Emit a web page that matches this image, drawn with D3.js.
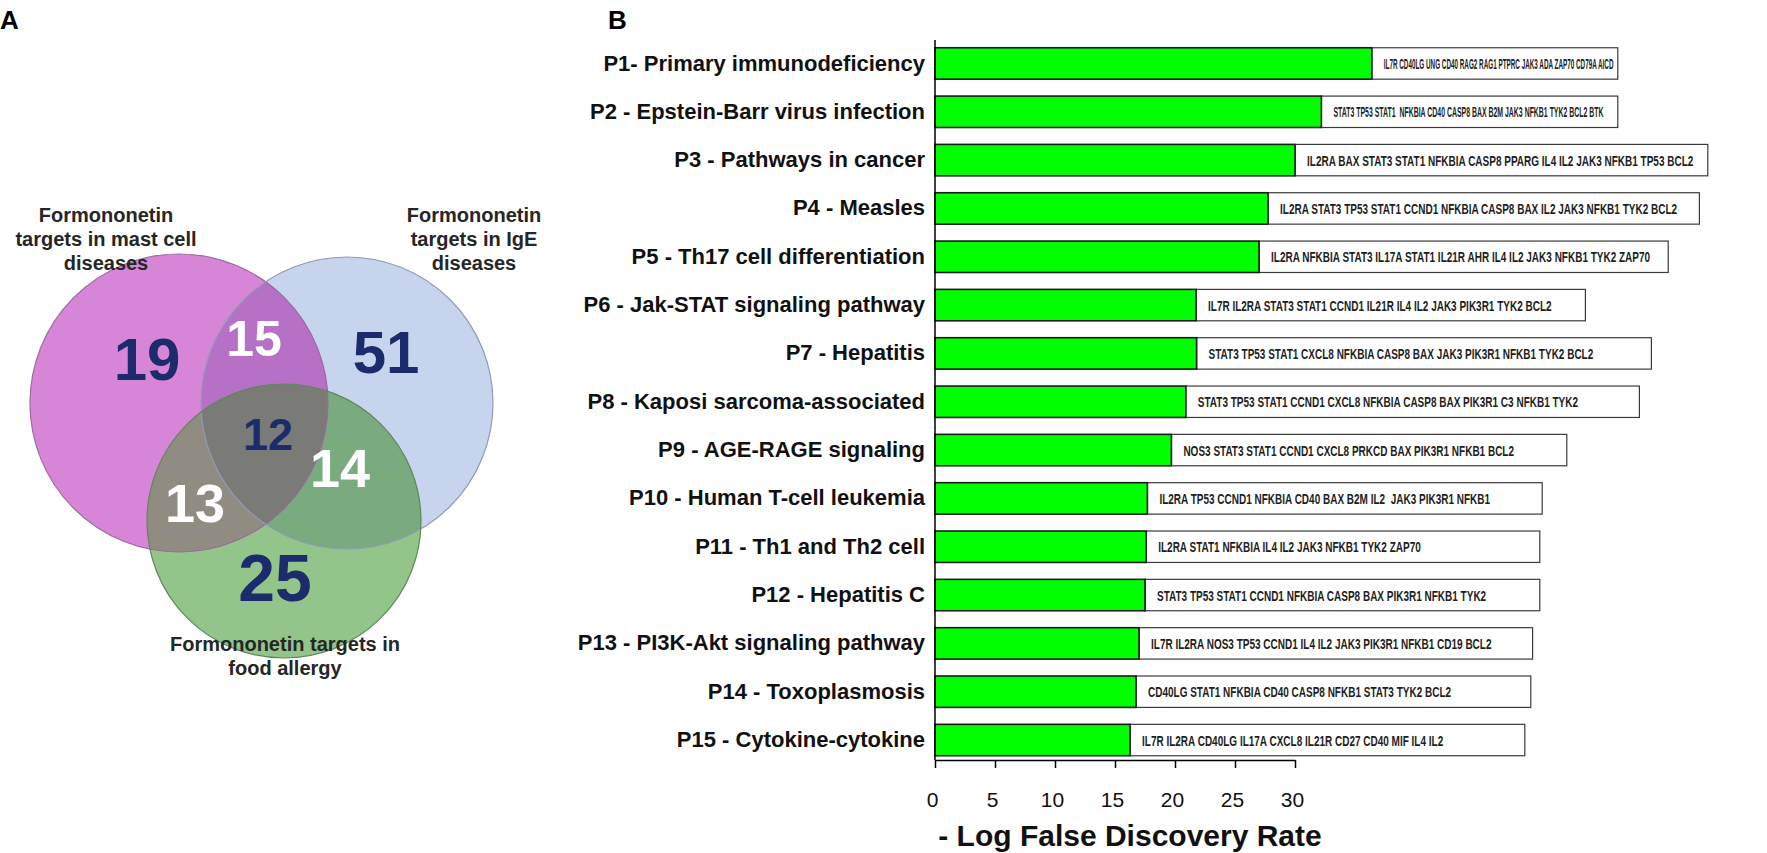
<!DOCTYPE html>
<html><head><meta charset="utf-8">
<script src="https://cdn.jsdelivr.net/npm/d3@7"></script>
<style>body{margin:0;background:#fff}svg{display:block}</style>
</head><body>
<svg id="c" width="1767" height="853"></svg>
<script>
// ---------- DATA ----------
const pathways = [
  "P1- Primary immunodeficiency",
  "P2 - Epstein-Barr virus infection",
  "P3 - Pathways in cancer",
  "P4 - Measles",
  "P5 - Th17 cell differentiation",
  "P6 - Jak-STAT signaling pathway",
  "P7 - Hepatitis",
  "P8 - Kaposi sarcoma-associated",
  "P9 - AGE-RAGE signaling",
  "P10 - Human T-cell leukemia",
  "P11 - Th1 and Th2 cell",
  "P12 - Hepatitis C",
  "P13 - PI3K-Akt signaling pathway",
  "P14 - Toxoplasmosis",
  "P15 - Cytokine-cytokine"
];
const logFDR = [36.4, 32.2, 30.0, 27.75, 27.0, 21.75, 21.8, 20.9, 19.7, 17.7, 17.6, 17.5, 17.0, 16.75, 16.25];
const geneBoxEnd = [56.9, 56.9, 64.4, 63.7, 61.1, 54.2, 59.7, 58.7, 52.65, 50.6, 50.4, 50.4, 49.8, 49.65, 49.15];
const geneLists = [
  "IL7R CD40LG UNG CD40 RAG2 RAG1 PTPRC JAK3 ADA ZAP70 CD79A AICD",
  "STAT3 TP53 STAT1  NFKBIA CD40 CASP8 BAX B2M JAK3 NFKB1 TYK2 BCL2 BTK",
  "IL2RA BAX STAT3 STAT1 NFKBIA CASP8 PPARG IL4 IL2 JAK3 NFKB1 TP53 BCL2",
  "IL2RA STAT3 TP53 STAT1 CCND1 NFKBIA CASP8 BAX IL2 JAK3 NFKB1 TYK2 BCL2",
  "IL2RA NFKBIA STAT3 IL17A STAT1 IL21R AHR IL4 IL2 JAK3 NFKB1 TYK2 ZAP70",
  "IL7R IL2RA STAT3 STAT1 CCND1 IL21R IL4 IL2 JAK3 PIK3R1 TYK2 BCL2",
  "STAT3 TP53 STAT1 CXCL8 NFKBIA CASP8 BAX JAK3 PIK3R1 NFKB1 TYK2 BCL2",
  "STAT3 TP53 STAT1 CCND1 CXCL8 NFKBIA CASP8 BAX PIK3R1 C3 NFKB1 TYK2",
  "NOS3 STAT3 STAT1 CCND1 CXCL8 PRKCD BAX PIK3R1 NFKB1 BCL2",
  "IL2RA TP53 CCND1 NFKBIA CD40 BAX B2M IL2  JAK3 PIK3R1 NFKB1",
  "IL2RA STAT1 NFKBIA IL4 IL2 JAK3 NFKB1 TYK2 ZAP70",
  "STAT3 TP53 STAT1 CCND1 NFKBIA CASP8 BAX PIK3R1 NFKB1 TYK2",
  "IL7R IL2RA NOS3 TP53 CCND1 IL4 IL2 JAK3 PIK3R1 NFKB1 CD19 BCL2",
  "CD40LG STAT1 NFKBIA CD40 CASP8 NFKB1 STAT3 TYK2 BCL2",
  "IL7R IL2RA CD40LG IL17A CXCL8 IL21R CD27 CD40 MIF IL4 IL2"
];
const xTicks = [0, 5, 10, 15, 20, 25, 30];
const xTitle = "- Log False Discovery Rate";

const vennSetNames = ["mast", "ige", "food"];
const vennSetLabels = [
  ["Formononetin", "targets in mast cell", "diseases"],
  ["Formononetin", "targets in IgE", "diseases"],
  ["Formononetin targets in", "food allergy"]
];
const vennRegionKeys   = ["mast", "ige", "food", "mast&ige", "mast&food", "ige&food", "mast&ige&food"];
const vennRegionCounts = [19, 51, 25, 15, 13, 14, 12];

// ---------- DRAW ----------
const svg = d3.select("#c");
const FONT = "'Liberation Sans', Arial, Helvetica, sans-serif";

svg.append("text").attr("x", 0).attr("y", 29).text("A")
  .attr("font-family", FONT).attr("font-weight", 700).attr("font-size", 26).attr("fill", "#000");
svg.append("text").attr("x", 608).attr("y", 29).text("B")
  .attr("font-family", FONT).attr("font-weight", 700).attr("font-size", 26).attr("fill", "#000");

// ---- Panel A: Venn ----
const circ = {
  mast: {cx: 179, cy: 403, r: 149, stroke: "#9a6a9a"},
  ige:  {cx: 347, cy: 403, r: 146, stroke: "#8f9ab5"},
  food: {cx: 284, cy: 521, r: 137, stroke: "#5f875c"}
};
const regionFill = {
  "mast": "#d786d7", "ige": "#c6d4ee", "food": "#93c58a",
  "mast&ige": "#b671c6", "mast&food": "#918c82", "ige&food": "#7aab7e",
  "mast&ige&food": "#7a7a77"
};
const regionPos = {
  "mast": [147, 359, 60, "#1b2b6b"], "ige": [386, 352, 60, "#1b2b6b"], "food": [275, 577, 66, "#1b2b6b"],
  "mast&ige": [254, 338, 50, "#ffffff"], "mast&food": [195, 503, 54, "#ffffff"],
  "ige&food": [340, 468, 54, "#ffffff"], "mast&ige&food": [268, 434, 45, "#1b2b6b"]
};
const defs = svg.append("defs");
vennSetNames.forEach(k => {
  defs.append("clipPath").attr("id", "clip-" + k)
    .append("circle").attr("cx", circ[k].cx).attr("cy", circ[k].cy).attr("r", circ[k].r);
});
const gA = svg.append("g");
vennSetNames.forEach(k => {
  gA.append("circle").attr("cx", circ[k].cx).attr("cy", circ[k].cy).attr("r", circ[k].r)
    .attr("fill", regionFill[k]);
});
function overlap(a, b, fill) {
  gA.append("g").attr("clip-path", `url(#clip-${b})`)
    .append("circle").attr("cx", circ[a].cx).attr("cy", circ[a].cy).attr("r", circ[a].r)
    .attr("fill", fill);
}
overlap("mast", "ige", regionFill["mast&ige"]);
overlap("mast", "food", regionFill["mast&food"]);
overlap("ige", "food", regionFill["ige&food"]);
gA.append("g").attr("clip-path", "url(#clip-food)")
  .append("g").attr("clip-path", "url(#clip-ige)")
  .append("circle").attr("cx", circ.mast.cx).attr("cy", circ.mast.cy).attr("r", circ.mast.r)
  .attr("fill", regionFill["mast&ige&food"]);
vennSetNames.forEach(k => {
  gA.append("circle").attr("cx", circ[k].cx).attr("cy", circ[k].cy).attr("r", circ[k].r)
    .attr("fill", "none").attr("stroke", circ[k].stroke).attr("stroke-width", 1.2);
});
vennRegionKeys.forEach((k, i) => {
  const [px, py, fs, col] = regionPos[k];
  gA.append("text").attr("x", px).attr("y", py + fs * 0.358)
    .attr("text-anchor", "middle").attr("font-family", FONT).attr("font-weight", 700)
    .attr("font-size", fs).attr("fill", col).text(vennRegionCounts[i]);
});
const labelPos = [[106, 222], [474, 222], [285, 651]];
vennSetLabels.forEach((lines, i) => {
  const t = gA.append("text").attr("text-anchor", "middle").attr("font-family", FONT)
    .attr("font-weight", 700).attr("font-size", 20).attr("fill", "#262626");
  lines.forEach((ln, j) => {
    t.append("tspan").attr("x", labelPos[i][0]).attr("y", labelPos[i][1] + j * 24).text(ln);
  });
});

// ---- Panel B: bars ----
const x = d3.scaleLinear().domain([0, 30]).range([935, 1295]);
const y = d3.scaleBand().domain(pathways).range([39.3, 764.2]).paddingInner(0.35).paddingOuter(0.175);
const rows = pathways.map((p, i) => ({p, v: logFDR[i], end: geneBoxEnd[i], genes: geneLists[i]}));
const gB = svg.append("g");

gB.selectAll("rect.box").data(rows).join("rect").attr("class", "box")
  .attr("x", d => x(d.v)).attr("y", d => y(d.p))
  .attr("width", d => x(d.end) - x(d.v)).attr("height", y.bandwidth())
  .attr("fill", "#fff").attr("stroke", "#3a3a3a").attr("stroke-width", 1.2);
gB.selectAll("rect.bar").data(rows).join("rect").attr("class", "bar")
  .attr("x", x(0)).attr("y", d => y(d.p))
  .attr("width", d => x(d.v) - x(0)).attr("height", y.bandwidth())
  .attr("fill", "#00ff00").attr("stroke", "#1a1a1a").attr("stroke-width", 1.6);

// gene text: narrow font size, stretched vertically to look condensed
const GENE_FS = 10, GENE_H = 15;
const gg = gB.selectAll("g.genes").data(rows).join("g").attr("class", "genes");
gg.each(function(d, i) {
  const g = d3.select(this);
  const t = g.append("text").attr("x", 0).attr("y", 0)
    .attr("font-family", FONT).attr("font-weight", 700).attr("font-size", GENE_FS)
    .attr("fill", "#1e1e1e").attr("xml:space", "preserve").text(d.genes);
  const nat = t.node().getComputedTextLength();
  const avail = x(d.end) - x(d.v) - (i === 0 ? 16 : 26);
  const fs = nat > avail ? GENE_FS * avail / nat : GENE_FS;
  t.attr("font-size", fs);
  const sy = GENE_H / fs;
  g.attr("transform", `translate(${x(d.v) + 12},${y(d.p) + y.bandwidth() / 2 + 5.5}) scale(1,${sy})`);
});

// y axis with category labels
const yAxis = gB.append("g").attr("transform", `translate(${x(0)},0)`)
  .call(d3.axisLeft(y).tickSize(0).tickPadding(10));
yAxis.select(".domain").attr("stroke", "#000").attr("stroke-width", 1.5).attr("d", "M0,40V760");
yAxis.selectAll("text").attr("font-family", FONT).attr("font-weight", 700)
  .attr("font-size", 22).attr("fill", "#111");

// x axis
const xAxis = gB.append("g").attr("transform", "translate(0,760)")
  .call(d3.axisBottom(x).tickValues(xTicks).tickSize(8).tickSizeOuter(0).tickPadding(24));
xAxis.select(".domain").attr("stroke", "#000").attr("stroke-width", 1.5);
xAxis.selectAll(".tick line").attr("stroke", "#000").attr("stroke-width", 1.5);
xAxis.selectAll("text").attr("font-family", FONT).attr("font-size", 21).attr("fill", "#111")
  .attr("dx", -3);

gB.append("text").attr("x", 1130).attr("y", 846).attr("text-anchor", "middle")
  .attr("font-family", FONT).attr("font-weight", 700).attr("font-size", 30).attr("fill", "#111")
  .text(xTitle);
</script>
</body></html>
